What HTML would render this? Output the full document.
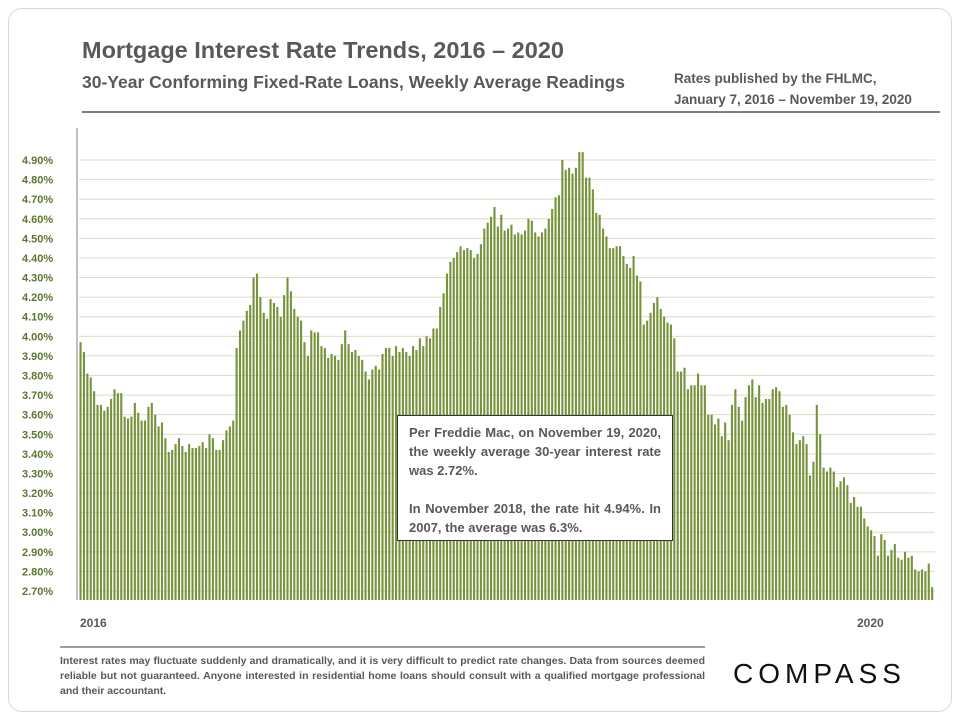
<!DOCTYPE html>
<html><head><meta charset="utf-8"><style>
body{margin:0;width:960px;height:720px;background:#fff;font-family:"Liberation Sans",sans-serif;overflow:hidden}
.card{position:absolute;left:8px;top:8px;width:942px;height:702px;border:1px solid #d8d8d8;border-radius:14px}
.t{position:absolute;color:#595959;font-weight:bold;white-space:nowrap}
</style></head><body>
<div class="card"></div>
<div class="t" style="left:82px;top:37px;font-size:23.5px">Mortgage Interest Rate Trends, 2016 – 2020</div>
<div class="t" style="left:82px;top:72px;font-size:17.5px">30-Year Conforming Fixed-Rate Loans, Weekly Average Readings</div>
<div class="t" style="left:674px;top:68px;font-size:13.5px;line-height:21px">Rates published by the FHLMC,<br>January 7, 2016 – November 19, 2020</div>
<svg id="chart" width="960" height="720" style="position:absolute;left:0;top:0"></svg>
<div style="position:absolute;left:397px;top:415px;width:252px;height:110px;padding:7px 11px;border:1px solid #333;background:#fff;color:#595959;font-weight:bold;font-size:13px;line-height:19px;text-align:justify">Per Freddie Mac, on November 19, 2020, the weekly average 30-year interest rate was 2.72%.<br><br>In November 2018, the rate hit 4.94%. In 2007, the average was 6.3%.</div>
<div style="position:absolute;left:60px;top:654px;width:645px;color:#595959;font-weight:bold;font-size:10.5px;line-height:15px;text-align:justify">Interest rates may fluctuate suddenly and dramatically, and it is very difficult to predict rate changes. Data from sources deemed reliable but not guaranteed. Anyone interested in residential home loans should consult with a qualified mortgage professional and their accountant.</div>
<div class="t" style="left:733px;top:658px;font-size:28px;font-weight:normal;letter-spacing:5px;color:#111">COMPASS</div>
<script>
const rates=[3.97,3.92,3.81,3.79,3.72,3.65,3.65,3.62,3.64,3.68,3.73,3.71,3.71,3.59,3.58,3.59,3.66,3.61,3.57,3.57,3.64,3.66,3.60,3.54,3.56,3.48,3.41,3.42,3.45,3.48,3.44,3.41,3.45,3.43,3.43,3.44,3.46,3.43,3.50,3.48,3.42,3.42,3.47,3.52,3.54,3.57,3.94,4.03,4.08,4.13,4.16,4.30,4.32,
4.20,4.12,4.09,4.19,4.17,4.15,4.10,4.21,4.30,4.23,4.14,4.10,4.08,3.97,3.90,4.03,4.02,4.02,3.95,3.94,3.89,3.91,3.90,3.88,3.96,4.03,3.96,3.92,3.93,3.90,3.88,3.82,3.78,3.83,3.85,3.83,3.91,3.94,3.94,3.90,3.95,3.92,3.94,3.92,3.90,3.95,3.93,3.99,3.95,4.00,
3.99,4.04,4.04,4.15,4.22,4.32,4.38,4.40,4.43,4.46,4.44,4.45,4.44,4.40,4.42,4.47,4.55,4.58,4.61,4.66,4.56,4.62,4.54,4.55,4.57,4.52,4.53,4.52,4.54,4.60,4.59,4.53,4.51,4.53,4.55,4.60,4.65,4.71,4.72,4.90,4.85,4.86,4.83,4.86,4.94,4.94,4.81,4.81,4.75,4.63,4.62,4.55,
4.51,4.45,4.45,4.46,4.46,4.41,4.37,4.35,4.41,4.31,4.28,4.06,4.08,4.12,4.17,4.20,4.14,4.10,4.07,4.06,3.99,3.82,3.82,3.84,3.73,3.75,3.75,3.81,3.75,3.75,3.60,3.60,3.55,3.58,3.49,3.56,3.47,3.65,3.73,3.64,3.57,3.69,3.75,3.78,3.69,3.75,3.66,3.68,3.68,3.73,3.74,3.72,
3.64,3.65,3.60,3.51,3.45,3.47,3.49,3.45,3.29,3.36,3.65,3.50,3.33,3.31,3.33,3.31,3.23,3.26,3.28,3.24,3.15,3.18,3.13,3.13,3.07,3.03,3.01,2.98,2.88,2.99,2.96,2.88,2.91,2.94,2.87,2.86,2.90,2.87,2.88,2.81,2.80,2.81,2.80,2.84,2.72];
const yTicks=[2.7,2.8,2.9,3.0,3.1,3.2,3.3,3.4,3.5,3.6,3.7,3.8,3.9,4.0,4.1,4.2,4.3,4.4,4.5,4.6,4.7,4.8,4.9];
const yearLabels=["2016","2020"];
const svg=document.getElementById('chart');const NS='http://www.w3.org/2000/svg';
const X0=79,X1=934,Y0=591,Y1=160,ymin=2.7,ymax=4.9;
const y=v=>Y0-(v-ymin)/(ymax-ymin)*(Y0-Y1);
const step=(X1-X0)/rates.length;const x=i=>X0+i*step;
function mk(t,a){const e=document.createElementNS(NS,t);for(const k in a)e.setAttribute(k,a[k]);svg.appendChild(e);return e;}
let e;
e=mk('line',{x1:82,x2:940,y1:112,y2:112,stroke:'#7f7f7f','stroke-width':2});


yTicks.forEach(v=>{
 const g=mk('line',{x1:X0,x2:935,y1:y(v),y2:y(v),stroke:'#dcdcc4','stroke-width':1});
 
 
 const t=mk('text',{x:22,y:y(v)+4,'font-size':11,'font-weight':'bold',fill:'#5f7530','font-family':'Liberation Sans, sans-serif'});
 t.textContent=v.toFixed(2)+'%';
 
 
});
rates.forEach((v,i)=>{
 const b=mk('rect',{x:x(i)+0.5,y:y(v),width:Math.max(step*0.62,1.5),height:600-y(v),fill:'#77933c'});
 
 
});
e=mk('line',{x1:77,x2:77,y1:128,y2:600,stroke:'#808080','stroke-width':1});


[[80,yearLabels[0]],[857,yearLabels[1]]].forEach(([px,s])=>{
 const t=mk('text',{x:px,y:627,'font-size':12,'font-weight':'bold',fill:'#595959','font-family':'Liberation Sans, sans-serif'});
 t.textContent=s;
 
 
});
e=mk('line',{x1:60,x2:705,y1:647,y2:647,stroke:'#7f7f7f','stroke-width':1.5});


</script>
</body></html>
